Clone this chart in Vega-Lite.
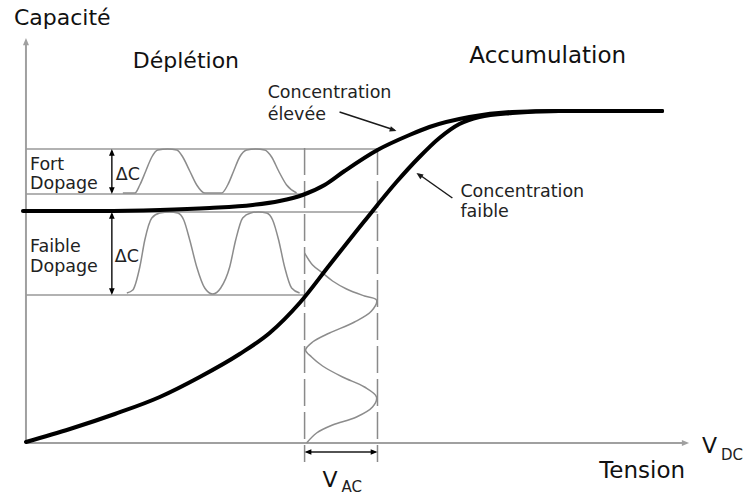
{
  "$schema": "https://vega.github.io/schema/vega-lite/v6.json",
  "width": 744,
  "height": 497,
  "autosize": {"type": "fit", "contains": "padding"},
  "padding": 0,
  "background": "white",
  "config": {"view": {"stroke": null}, "text": {"font": "DejaVu Sans"}},
  "datasets": {
    "axes": [
      {"id": "y", "X": 0, "Y": 0}, {"id": "y", "X": 0, "Y": 399},
      {"id": "x", "X": 0, "Y": 0}, {"id": "x", "X": 658, "Y": 0}
    ],
    "grid": [
      {"id": "g1", "X": 0, "Y": 294}, {"id": "g1", "X": 352, "Y": 294},
      {"id": "g2", "X": 0, "Y": 249}, {"id": "g2", "X": 279, "Y": 249},
      {"id": "g3", "X": 0, "Y": 231}, {"id": "g3", "X": 352, "Y": 231},
      {"id": "g4", "X": 0, "Y": 148}, {"id": "g4", "X": 279, "Y": 148}
    ],
    "dashed": [
      {"id": "v1", "X": 279, "Y": 295}, {"id": "v1", "X": 279, "Y": -19},
      {"id": "v2", "X": 352, "Y": 295}, {"id": "v2", "X": 352, "Y": -19}
    ],
    "curves": [
      {"id": "elevee", "X": -3, "Y": 232}, {"id": "elevee", "X": 74, "Y": 232}, {"id": "elevee", "X": 134, "Y": 233},
      {"id": "elevee", "X": 184, "Y": 235}, {"id": "elevee", "X": 227, "Y": 238}, {"id": "elevee", "X": 254, "Y": 242},
      {"id": "elevee", "X": 277, "Y": 248}, {"id": "elevee", "X": 299, "Y": 258}, {"id": "elevee", "X": 319, "Y": 272},
      {"id": "elevee", "X": 352, "Y": 293}, {"id": "elevee", "X": 384, "Y": 308}, {"id": "elevee", "X": 404, "Y": 316},
      {"id": "elevee", "X": 444, "Y": 326}, {"id": "elevee", "X": 487, "Y": 331}, {"id": "elevee", "X": 534, "Y": 332},
      {"id": "elevee", "X": 637, "Y": 332},
      {"id": "faible", "X": 0, "Y": 1}, {"id": "faible", "X": 44, "Y": 14}, {"id": "faible", "X": 89, "Y": 29},
      {"id": "faible", "X": 134, "Y": 46}, {"id": "faible", "X": 174, "Y": 66}, {"id": "faible", "X": 214, "Y": 89},
      {"id": "faible", "X": 244, "Y": 110}, {"id": "faible", "X": 274, "Y": 140}, {"id": "faible", "X": 304, "Y": 178},
      {"id": "faible", "X": 339, "Y": 222}, {"id": "faible", "X": 371, "Y": 261}, {"id": "faible", "X": 394, "Y": 286},
      {"id": "faible", "X": 414, "Y": 305}, {"id": "faible", "X": 434, "Y": 319}, {"id": "faible", "X": 454, "Y": 326},
      {"id": "faible", "X": 487, "Y": 330}, {"id": "faible", "X": 534, "Y": 332}, {"id": "faible", "X": 637, "Y": 332}
    ],
    "waves": [
      {"id": "fort", "X": 97, "Y": 250}, {"id": "fort", "X": 109, "Y": 250}, {"id": "fort", "X": 114, "Y": 258},
      {"id": "fort", "X": 120, "Y": 272}, {"id": "fort", "X": 126, "Y": 286}, {"id": "fort", "X": 132, "Y": 293},
      {"id": "fort", "X": 142, "Y": 294}, {"id": "fort", "X": 151, "Y": 293}, {"id": "fort", "X": 157, "Y": 286},
      {"id": "fort", "X": 164, "Y": 272}, {"id": "fort", "X": 171, "Y": 258}, {"id": "fort", "X": 179, "Y": 250},
      {"id": "fort", "X": 196, "Y": 250}, {"id": "fort", "X": 202, "Y": 258}, {"id": "fort", "X": 208, "Y": 272},
      {"id": "fort", "X": 214, "Y": 286}, {"id": "fort", "X": 221, "Y": 293}, {"id": "fort", "X": 230, "Y": 294},
      {"id": "fort", "X": 239, "Y": 293}, {"id": "fort", "X": 246, "Y": 286}, {"id": "fort", "X": 253, "Y": 272},
      {"id": "fort", "X": 261, "Y": 258}, {"id": "fort", "X": 271, "Y": 250},
      {"id": "faib", "X": 101, "Y": 150}, {"id": "faib", "X": 107, "Y": 153}, {"id": "faib", "X": 114, "Y": 176},
      {"id": "faib", "X": 119, "Y": 203}, {"id": "faib", "X": 126, "Y": 225}, {"id": "faib", "X": 134, "Y": 230},
      {"id": "faib", "X": 144, "Y": 231}, {"id": "faib", "X": 152, "Y": 230}, {"id": "faib", "X": 158, "Y": 223},
      {"id": "faib", "X": 164, "Y": 203}, {"id": "faib", "X": 171, "Y": 176}, {"id": "faib", "X": 179, "Y": 155},
      {"id": "faib", "X": 187, "Y": 149}, {"id": "faib", "X": 195, "Y": 155}, {"id": "faib", "X": 204, "Y": 176},
      {"id": "faib", "X": 210, "Y": 203}, {"id": "faib", "X": 217, "Y": 225}, {"id": "faib", "X": 225, "Y": 230},
      {"id": "faib", "X": 233, "Y": 231}, {"id": "faib", "X": 241, "Y": 230}, {"id": "faib", "X": 247, "Y": 223},
      {"id": "faib", "X": 253, "Y": 203}, {"id": "faib", "X": 259, "Y": 176}, {"id": "faib", "X": 266, "Y": 155},
      {"id": "faib", "X": 274, "Y": 150}
    ],
    "vwave": [
      {"ord": 1, "X": 279, "Y": 190}, {"ord": 2, "X": 287, "Y": 178}, {"ord": 3, "X": 297, "Y": 170},
      {"ord": 4, "X": 307, "Y": 162}, {"ord": 5, "X": 321, "Y": 154}, {"ord": 6, "X": 339, "Y": 147},
      {"ord": 7, "X": 351, "Y": 143}, {"ord": 8, "X": 346, "Y": 132}, {"ord": 9, "X": 329, "Y": 121},
      {"ord": 10, "X": 304, "Y": 110}, {"ord": 11, "X": 287, "Y": 101}, {"ord": 12, "X": 280, "Y": 93},
      {"ord": 13, "X": 286, "Y": 86}, {"ord": 14, "X": 297, "Y": 77}, {"ord": 15, "X": 317, "Y": 66},
      {"ord": 16, "X": 339, "Y": 56}, {"ord": 17, "X": 351, "Y": 46}, {"ord": 18, "X": 347, "Y": 36},
      {"ord": 19, "X": 331, "Y": 26}, {"ord": 20, "X": 307, "Y": 18}, {"ord": 21, "X": 291, "Y": 10},
      {"ord": 22, "X": 281, "Y": 0}
    ],
    "shafts": [
      {"id": "dc1", "X": 86, "Y": 292}, {"id": "dc1", "X": 86, "Y": 251},
      {"id": "dc2", "X": 86, "Y": 229}, {"id": "dc2", "X": 86, "Y": 150},
      {"id": "vac", "X": 281, "Y": -9}, {"id": "vac", "X": 350, "Y": -9},
      {"id": "ann1", "X": 314, "Y": 331}, {"id": "ann1", "X": 369, "Y": 313},
      {"id": "ann2", "X": 427, "Y": 245}, {"id": "ann2", "X": 393, "Y": 269}
    ],
    "headsUp": [{"X": 86, "Y": 294}, {"X": 86, "Y": 231}],
    "headsDown": [{"X": 86, "Y": 249}, {"X": 86, "Y": 148}],
    "headsLeft": [{"X": 279, "Y": -9}],
    "headsRight": [{"X": 352, "Y": -9}],
    "headAnn1": [{"X": 371, "Y": 312}],
    "headAnn2": [{"X": 391, "Y": 270}],
    "axisHeadUp": [{"X": 0, "Y": 405}],
    "axisHeadRight": [{"X": 664, "Y": 0}],
    "bigText": [
      {"label": "Capacité", "X": -12, "Y": 418},
      {"label": "Déplétion", "X": 107, "Y": 375},
      {"label": "V", "X": 297, "Y": -44},
      {"label": "V", "X": 677, "Y": -10}
    ],
    "bigText2": [
      {"label": "Accumulation", "X": 444, "Y": 380},
      {"label": "Tension", "X": 574, "Y": -35}
    ],
    "midText": [
      {"label": "Concentration", "X": 242, "Y": 345},
      {"label": "élevée", "X": 242, "Y": 323},
      {"label": "Concentration", "X": 435, "Y": 246},
      {"label": "faible", "X": 435, "Y": 226},
      {"label": "Fort", "X": 4, "Y": 273},
      {"label": "Dopage", "X": 4, "Y": 254},
      {"label": "Faible", "X": 4, "Y": 191},
      {"label": "Dopage", "X": 4, "Y": 171},
      {"label": "ΔC", "X": 90, "Y": 263},
      {"label": "ΔC", "X": 89, "Y": 181}
    ],
    "subText": [
      {"label": "AC", "X": 316, "Y": -49},
      {"label": "DC", "X": 696, "Y": -17}
    ]
  },
  "encoding": {
    "x": {"field": "X", "type": "quantitative", "scale": {"domain": [-26, 718], "nice": false, "zero": false}, "axis": null},
    "y": {"field": "Y", "type": "quantitative", "scale": {"domain": [-54, 443], "nice": false, "zero": false}, "axis": null}
  },
  "layer": [
    {"data": {"name": "axes"}, "mark": {"type": "line", "color": "#a0a0a0", "strokeWidth": 2}, "encoding": {"detail": {"field": "id"}}},
    {"data": {"name": "grid"}, "mark": {"type": "line", "color": "#999999", "strokeWidth": 1.5}, "encoding": {"detail": {"field": "id"}}},
    {"data": {"name": "dashed"}, "mark": {"type": "line", "color": "#8a8a8a", "strokeWidth": 1.5, "strokeDash": [27, 6]}, "encoding": {"detail": {"field": "id"}}},
    {"data": {"name": "waves"}, "mark": {"type": "line", "color": "#8c8c8c", "strokeWidth": 1.5, "interpolate": "monotone"}, "encoding": {"detail": {"field": "id"}}},
    {"data": {"name": "vwave"}, "mark": {"type": "line", "color": "#8c8c8c", "strokeWidth": 1.5, "interpolate": "catmull-rom"}, "encoding": {"order": {"field": "ord", "type": "quantitative"}}},
    {"data": {"name": "curves"}, "mark": {"type": "line", "color": "#000000", "strokeWidth": 4, "interpolate": "monotone", "strokeCap": "round"}, "encoding": {"detail": {"field": "id"}}},
    {"data": {"name": "shafts"}, "mark": {"type": "line", "color": "#1a1a1a", "strokeWidth": 1.5}, "encoding": {"detail": {"field": "id"}}},
    {"data": {"name": "headsUp"}, "mark": {"type": "point", "shape": "M0,0L-1,2.4L1,2.4Z", "size": 32, "filled": true, "color": "#000000", "opacity": 1, "angle": 0}},
    {"data": {"name": "headsDown"}, "mark": {"type": "point", "shape": "M0,0L-1,2.4L1,2.4Z", "size": 32, "filled": true, "color": "#000000", "opacity": 1, "angle": 180}},
    {"data": {"name": "headsLeft"}, "mark": {"type": "point", "shape": "M0,0L-1,2.4L1,2.4Z", "size": 32, "filled": true, "color": "#000000", "opacity": 1, "angle": 270}},
    {"data": {"name": "headsRight"}, "mark": {"type": "point", "shape": "M0,0L-1,2.4L1,2.4Z", "size": 32, "filled": true, "color": "#000000", "opacity": 1, "angle": 90}},
    {"data": {"name": "headAnn1"}, "mark": {"type": "point", "shape": "M0,0L-1,2.4L1,2.4Z", "size": 32, "filled": true, "color": "#1a1a1a", "opacity": 1, "angle": 108}},
    {"data": {"name": "headAnn2"}, "mark": {"type": "point", "shape": "M0,0L-1,2.4L1,2.4Z", "size": 32, "filled": true, "color": "#1a1a1a", "opacity": 1, "angle": 305}},
    {"data": {"name": "axisHeadUp"}, "mark": {"type": "point", "shape": "M0,0L-1,2.4L1,2.4Z", "size": 36, "filled": true, "color": "#a0a0a0", "opacity": 1, "angle": 0}},
    {"data": {"name": "axisHeadRight"}, "mark": {"type": "point", "shape": "M0,0L-1,2.4L1,2.4Z", "size": 36, "filled": true, "color": "#a0a0a0", "opacity": 1, "angle": 90}},
    {"data": {"name": "bigText"}, "mark": {"type": "text", "fontSize": 22, "align": "left", "baseline": "alphabetic", "color": "#111111"}, "encoding": {"text": {"field": "label"}}},
    {"data": {"name": "bigText2"}, "mark": {"type": "text", "fontSize": 23, "align": "left", "baseline": "alphabetic", "color": "#111111"}, "encoding": {"text": {"field": "label"}}},
    {"data": {"name": "midText"}, "mark": {"type": "text", "fontSize": 17.5, "align": "left", "baseline": "alphabetic", "color": "#222222"}, "encoding": {"text": {"field": "label"}}},
    {"data": {"name": "subText"}, "mark": {"type": "text", "fontSize": 15, "align": "left", "baseline": "alphabetic", "color": "#222222"}, "encoding": {"text": {"field": "label"}}}
  ]
}
